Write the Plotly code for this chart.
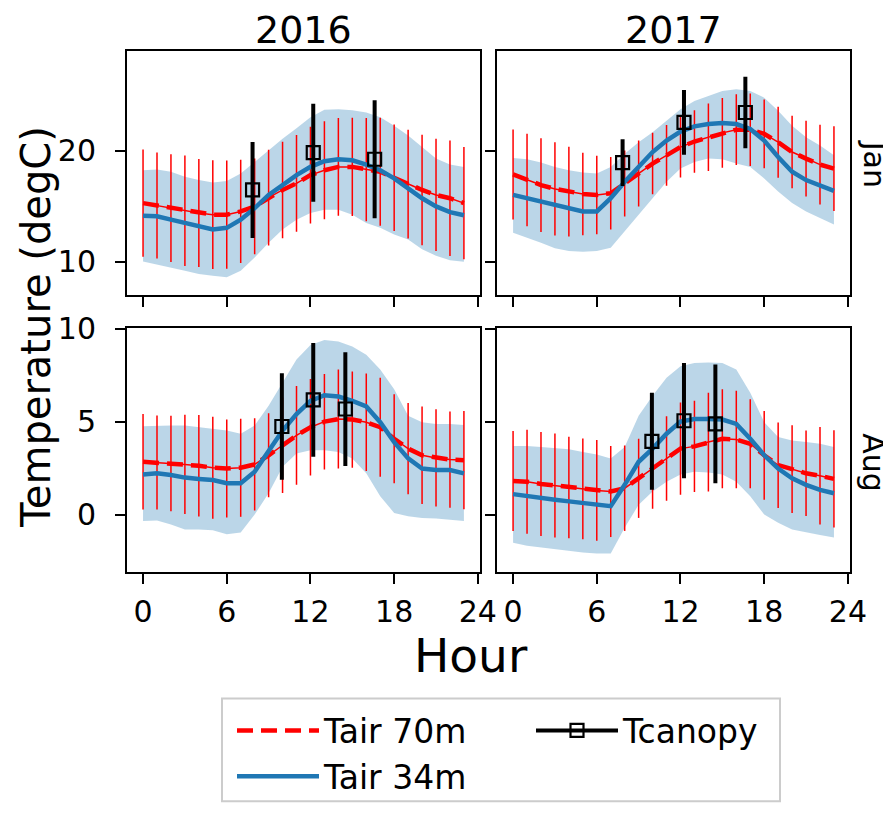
import plotly.graph_objects as go
from plotly.subplots import make_subplots

# hour of day
hours = list(range(24))

# ---- Jan 2016 ----
tair70_jan16 = [15.27, 15.06, 14.82, 14.58, 14.38, 14.23, 14.23, 14.52, 14.97, 15.77, 16.46, 17.05,
                17.80, 18.24, 18.54, 18.54, 18.30, 18.10, 17.56, 16.99, 16.46, 16.01, 15.71, 15.27]
tair70_sd_jan16 = [4.84, 4.79, 4.87, 4.99, 4.87, 4.91, 4.88, 4.66, 4.32, 4.32, 4.35, 4.36,
                   4.36, 4.42, 4.42, 4.43, 4.66, 4.88, 4.81, 4.91, 4.99, 5.06, 5.21, 5.06]
tair34_jan16 = [14.14, 14.08, 13.78, 13.48, 13.18, 12.89, 13.04, 13.78, 14.82, 16.01, 16.90, 17.80,
                18.54, 19.05, 19.23, 19.14, 18.75, 18.24, 17.50, 16.61, 15.71, 14.97, 14.46, 14.17]
tair34_hi_jan16 = [18.24, 18.30, 18.10, 17.65, 17.35, 17.14, 17.26, 17.95, 18.99, 20.03, 21.07, 22.02,
                   23.01, 23.69, 23.75, 23.66, 23.45, 23.01, 22.26, 21.37, 20.33, 19.29, 18.75, 18.54]
tair34_lo_jan16 = [10.00, 9.76, 9.46, 9.17, 8.87, 8.72, 8.57, 9.17, 10.36, 11.70, 12.89, 13.78,
                   14.38, 14.67, 14.67, 14.23, 13.48, 13.04, 12.44, 11.99, 11.10, 10.51, 10.12, 9.97]
tcan_hour_jan16 = [7.85, 12.2, 16.6]
tcan_jan16 = [16.46, 19.82, 19.23]
tcan_sd_jan16 = [4.33, 4.42, 5.33]

# ---- Jan 2017 ----
tair70_jan17 = [17.86, 17.35, 16.90, 16.55, 16.31, 16.10, 16.01, 16.16, 17.05, 17.95, 18.84, 19.58,
                20.33, 20.83, 21.22, 21.61, 21.90, 21.90, 21.52, 20.77, 19.88, 19.29, 18.75, 18.39]
tair70_sd_jan17 = [4.06, 4.17, 4.23, 4.21, 4.05, 3.72, 3.54, 3.27, 2.98, 2.98, 2.78, 2.75,
                   2.75, 2.83, 3.05, 3.15, 3.20, 3.27, 3.10, 3.20, 3.27, 3.42, 3.60, 3.82]
tair34_jan17 = [16.01, 15.71, 15.42, 15.12, 14.82, 14.52, 14.52, 15.71, 17.20, 18.54, 19.88, 20.92,
                21.73, 22.20, 22.41, 22.50, 22.41, 21.96, 20.92, 19.43, 18.10, 17.35, 16.90, 16.37]
tair34_hi_jan17 = [19.35, 19.23, 18.93, 18.54, 18.24, 18.04, 17.95, 18.54, 19.73, 20.77, 21.67, 22.71,
                   23.75, 24.49, 24.94, 25.39, 25.54, 25.39, 24.79, 23.60, 22.26, 21.22, 20.48, 19.58]
tair34_lo_jan17 = [12.59, 12.14, 11.70, 11.19, 10.95, 10.89, 10.95, 11.25, 12.74, 14.23, 15.71, 17.20,
                   18.39, 18.99, 19.29, 19.23, 18.84, 18.54, 17.50, 16.31, 15.27, 14.52, 13.93, 13.33]
tcan_hour_jan17 = [7.85, 12.25, 16.65]
tcan_jan17 = [18.93, 22.56, 23.45]
tcan_sd_jan17 = [2.11, 2.93, 3.23]

# ---- Aug 2016 ----
tair70_aug16 = [2.84, 2.80, 2.75, 2.70, 2.63, 2.52, 2.48, 2.52, 2.70, 3.19, 3.73, 4.26,
                4.70, 5.00, 5.14, 5.11, 4.97, 4.70, 4.08, 3.55, 3.19, 3.05, 2.96, 2.93]
tair70_sd_aug16 = [2.57, 2.53, 2.57, 2.67, 2.73, 2.75, 2.64, 2.64, 2.48, 2.26, 2.57, 2.66,
                   2.60, 2.57, 2.66, 2.59, 2.62, 2.66, 2.39, 2.46, 2.62, 2.62, 2.59, 2.64]
tair34_aug16 = [2.16, 2.22, 2.13, 1.99, 1.92, 1.86, 1.69, 1.69, 2.31, 3.46, 4.52, 5.41,
                6.12, 6.42, 6.35, 6.12, 5.82, 4.97, 3.90, 3.02, 2.48, 2.40, 2.40, 2.22]
tair34_hi_aug16 = [4.75, 4.79, 4.79, 4.79, 4.70, 4.61, 4.52, 4.35, 4.79, 5.85, 7.09, 8.34,
                   9.13, 9.40, 9.31, 9.04, 8.60, 7.80, 6.74, 5.32, 4.97, 4.88, 4.88, 4.82]
tair34_lo_aug16 = [-0.35, -0.32, -0.53, -0.80, -0.80, -0.85, -1.06, -0.97, 0.00, 1.15, 2.57, 3.28,
                   3.46, 3.46, 3.37, 3.02, 2.22, 0.98, 0.09, -0.09, -0.18, -0.21, -0.26, -0.35]
tcan_hour_aug16 = [9.95, 12.2, 14.5]
tcan_aug16 = [4.74, 6.17, 5.68]
tcan_sd_aug16 = [2.86, 3.06, 3.06]

# ---- Aug 2017 ----
tair70_aug17 = [1.81, 1.77, 1.65, 1.56, 1.46, 1.38, 1.30, 1.24, 1.42, 1.95, 2.48, 3.02,
                3.55, 3.67, 3.90, 4.08, 4.04, 3.81, 3.19, 2.66, 2.45, 2.22, 2.09, 1.92]
tair70_sd_aug17 = [2.69, 2.80, 2.80, 2.80, 2.73, 2.71, 2.71, 2.45, 2.30, 2.13, 2.16, 2.27,
                   2.48, 2.46, 2.66, 2.66, 2.62, 2.39, 2.39, 2.30, 2.36, 2.30, 2.62, 2.62]
tair34_aug17 = [1.10, 0.98, 0.89, 0.80, 0.71, 0.62, 0.53, 0.45, 1.60, 2.84, 3.55, 4.35,
                5.00, 5.14, 5.14, 5.11, 4.88, 4.08, 3.19, 2.48, 1.95, 1.60, 1.33, 1.15]
tair34_hi_aug17 = [3.69, 3.69, 3.64, 3.58, 3.51, 3.37, 3.23, 3.02, 3.64, 5.32, 6.39, 7.36,
                   7.98, 8.16, 8.19, 8.16, 7.80, 6.56, 4.97, 4.17, 3.99, 3.90, 3.81, 3.64]
tair34_lo_aug17 = [-1.51, -1.68, -1.77, -1.86, -1.95, -2.04, -2.09, -2.09, -0.71, 0.53, 1.24, 1.77,
                   2.16, 2.31, 2.27, 2.16, 1.77, 0.98, 0.00, -0.44, -0.80, -0.97, -1.10, -1.24]
tcan_hour_aug17 = [9.95, 12.25, 14.5]
tcan_aug17 = [3.94, 5.05, 4.88]
tcan_sd_aug17 = [2.61, 3.10, 3.19]

panels = [
    (1, 1, tair70_jan16, tair70_sd_jan16, tair34_jan16, tair34_lo_jan16, tair34_hi_jan16,
     tcan_hour_jan16, tcan_jan16, tcan_sd_jan16),
    (1, 2, tair70_jan17, tair70_sd_jan17, tair34_jan17, tair34_lo_jan17, tair34_hi_jan17,
     tcan_hour_jan17, tcan_jan17, tcan_sd_jan17),
    (2, 1, tair70_aug16, tair70_sd_aug16, tair34_aug16, tair34_lo_aug16, tair34_hi_aug16,
     tcan_hour_aug16, tcan_aug16, tcan_sd_aug16),
    (2, 2, tair70_aug17, tair70_sd_aug17, tair34_aug17, tair34_lo_aug17, tair34_hi_aug17,
     tcan_hour_aug17, tcan_aug17, tcan_sd_aug17),
]

RED = '#ff0000'
BLUE = '#1f77b4'
FONT = 'DejaVu Sans'

fig = make_subplots(rows=2, cols=2, shared_xaxes=True, shared_yaxes=True)

for i, (row, col, r, rsd, b, blo, bhi, ch, cv, csd) in enumerate(panels):
    first = i == 0
    # shaded spread of the 34m air temperature
    fig.add_trace(go.Scatter(x=hours + hours[::-1], y=bhi + blo[::-1], fill='toself',
                             fillcolor='rgba(31,119,180,0.3)', line=dict(width=0),
                             mode='lines', showlegend=False, hoverinfo='skip'),
                  row=row, col=col)
    # thin line under the dashes
    fig.add_trace(go.Scatter(x=hours, y=r, mode='lines', line=dict(color=RED, width=1.5),
                             showlegend=False, hoverinfo='skip'),
                  row=row, col=col)
    fig.add_trace(go.Scatter(x=hours, y=r, mode='lines', name='Tair 70m',
                             line=dict(color=RED, width=4.5, dash='16px,8px'),
                             error_y=dict(type='data', array=rsd, color=RED, thickness=1.5, width=0),
                             showlegend=first, legendrank=1),
                  row=row, col=col)
    fig.add_trace(go.Scatter(x=hours, y=b, mode='lines', name='Tair 34m',
                             line=dict(color=BLUE, width=4.5),
                             showlegend=first, legendrank=3),
                  row=row, col=col)
    fig.add_trace(go.Scatter(x=ch, y=cv, mode='markers', name='Tcanopy',
                             marker=dict(symbol='square-open', size=13, color='black',
                                         line=dict(width=2.2, color='black')),
                             error_y=dict(type='data', array=csd, color='black', thickness=4, width=0),
                             showlegend=False),
                  row=row, col=col)

# legend entry for Tcanopy (line + marker like the matplotlib errorbar handle)
fig.add_trace(go.Scatter(x=[None], y=[None], mode='lines+markers', name='Tcanopy',
                         line=dict(color='black', width=4),
                         marker=dict(symbol='square-open', size=13, color='black',
                                     line=dict(width=2.2, color='black')),
                         legendrank=2),
              row=1, col=1)

axis_common = dict(ticks='outside', ticklen=10, tickwidth=2, tickcolor='black',
                   showline=True, mirror=True, linecolor='black', linewidth=2,
                   showgrid=False, zeroline=False,
                   tickfont=dict(family=FONT, size=30, color='black'))
fig.update_xaxes(range=[-1.15, 24.15], tickvals=[0, 6, 12, 18, 24], ticklabelstandoff=2, **axis_common)
fig.update_yaxes(ticklabelstandoff=13, **axis_common)
fig.update_yaxes(range=[6.96, 29.0], tickvals=[10, 20], row=1)
fig.update_yaxes(range=[-3.09, 10.05], tickvals=[0, 5, 10], row=2)


# page pixel -> paper coords (plot area spans x 127..850, y 51..578 on the page)
def px_x(x):
    return (x - 127) / 723


def px_y(y):
    return (578 - y) / 527


annots = [
    dict(text='2016', x=px_x(303.5), y=px_y(30), size=38, angle=0),
    dict(text='2017', x=px_x(673.5), y=px_y(30), size=38, angle=0),
    dict(text='Jan', x=px_x(874), y=px_y(165), size=30, angle=90),
    dict(text='Aug', x=px_x(874), y=px_y(467), size=30, angle=90),
    dict(text='Hour', x=px_x(471), y=px_y(662), size=47, angle=0),
    dict(text='Temperature (degC)', x=px_x(36), y=px_y(330), size=40, angle=-90),
]
for a in annots:
    fig.add_annotation(text=a['text'], x=a['x'], y=a['y'], xref='paper', yref='paper',
                       xanchor='center', yanchor='middle', showarrow=False, textangle=a['angle'],
                       font=dict(family=FONT, size=a['size'], color='black'))

# legend frame
fig.add_shape(type='rect', xref='paper', yref='paper',
              x0=px_x(222), x1=px_x(780), y0=px_y(810), y1=px_y(706),
              line=dict(color='#cccccc', width=2), fillcolor='rgba(0,0,0,0)')

# the page body adds an 8px offset, so the figure is 8px smaller than the window
fig.update_layout(
    width=883, height=808,
    margin=dict(l=119, r=41, t=43, b=238),
    paper_bgcolor='white', plot_bgcolor='white',
    font=dict(family=FONT, color='black'),
    xaxis=dict(domain=[0, 0.4882]), xaxis2=dict(domain=[0.5118, 1]),
    xaxis3=dict(domain=[0, 0.4882]), xaxis4=dict(domain=[0.5118, 1]),
    yaxis=dict(domain=[0.5313, 1]), yaxis2=dict(domain=[0.5313, 1]),
    yaxis3=dict(domain=[0, 0.4687]), yaxis4=dict(domain=[0, 0.4687]),
    legend=dict(orientation='h', x=px_x(232), y=px_y(710), xanchor='left', yanchor='top',
                font=dict(family=FONT, size=33, color='black'),
                bgcolor='rgba(0,0,0,0)', borderwidth=0,
                itemwidth=82, entrywidth=202, traceorder='normal'),
    showlegend=True,
)

fig.write_html("out.html")
